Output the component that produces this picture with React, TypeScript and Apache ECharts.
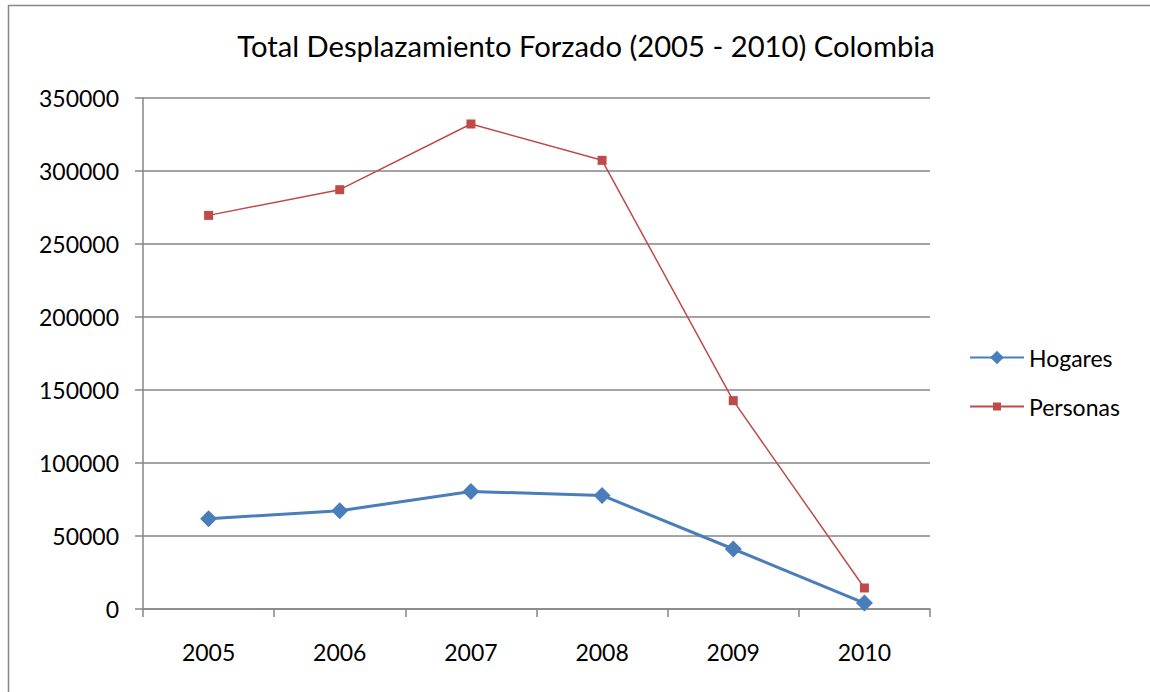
import React, { useEffect, useRef } from "react";
import * as echarts from "echarts";

const years = ["2005", "2006", "2007", "2008", "2009", "2010"];
const hogares = [61800, 67300, 80500, 77800, 41100, 4100];
const personas = [269600, 287200, 332200, 307300, 142700, 14400];
const titleText = "Total Desplazamiento Forzado (2005 - 2010) Colombia";

const FONT = "Lato";

export default function App() {
  const ref = useRef<HTMLDivElement>(null);
  useEffect(() => {
    if (!ref.current) return;
    const chart = echarts.init(ref.current, null, { renderer: "svg" });
    chart.setOption({
      animation: false,
      backgroundColor: "#ffffff",
      textStyle: { fontFamily: FONT },
      title: {
        text: titleText,
        left: 581,
        top: 26,
        textAlign: "center",
        textStyle: { fontFamily: FONT, fontSize: 29.2, fontWeight: "normal", color: "#000" },
      },
      graphic: [
        {
          type: "polyline",
          shape: { points: [[8.5, 692], [8.5, 5.5], [1150, 5.5]] },
          style: { fill: "none", stroke: "#868686", lineWidth: 1.5 },
          silent: true,
        },
      ],
      legend: [
        {
          orient: "vertical",
          left: 964,
          top: 341,
          itemWidth: 54,
          itemHeight: 17,
          textStyle: { fontFamily: FONT, fontSize: 23, color: "#000" },
          data: ["Hogares"],
        },
        {
          orient: "vertical",
          left: 964,
          top: 390,
          itemWidth: 54,
          itemHeight: 10,
          textStyle: { fontFamily: FONT, fontSize: 23, color: "#000" },
          data: ["Personas"],
        },
      ],
      grid: { left: 143, right: 220, top: 98, bottom: 83, containLabel: false },
      xAxis: {
        type: "category",
        data: years,
        boundaryGap: true,
        axisLine: { lineStyle: { color: "#868686", width: 1.5 } },
        axisTick: { show: true, length: 8, lineStyle: { color: "#868686", width: 1.5 } },
        axisLabel: { color: "#000", fontSize: 23, fontFamily: FONT, margin: 31 },
      },
      yAxis: {
        type: "value",
        min: 0,
        max: 350000,
        interval: 50000,
        axisLine: { show: true, lineStyle: { color: "#868686", width: 1.5 } },
        axisTick: { show: true, length: 8, lineStyle: { color: "#868686", width: 1.5 } },
        axisLabel: {
          color: "#000",
          fontSize: 23,
          fontFamily: FONT,
          margin: 24,
          formatter: (v: number) => String(v),
        },
        splitLine: { show: true, lineStyle: { color: "#868686", width: 1.5 } },
      },
      series: [
        {
          name: "Hogares",
          type: "line",
          data: hogares,
          symbol: "diamond",
          symbolSize: 17,
          lineStyle: { color: "#4a7ebb", width: 3 },
          itemStyle: { color: "#4a7ebb" },
        },
        {
          name: "Personas",
          type: "line",
          data: personas,
          symbol: "rect",
          symbolSize: 9,
          lineStyle: { color: "#be4b48", width: 1.5 },
          itemStyle: { color: "#be4b48" },
        },
      ],
    });
    return () => chart.dispose();
  }, []);
  return (
    <div
      ref={ref}
      style={{ position: "fixed", left: 0, top: 0, width: 1150, height: 692, background: "#fff" }}
    />
  );
}
